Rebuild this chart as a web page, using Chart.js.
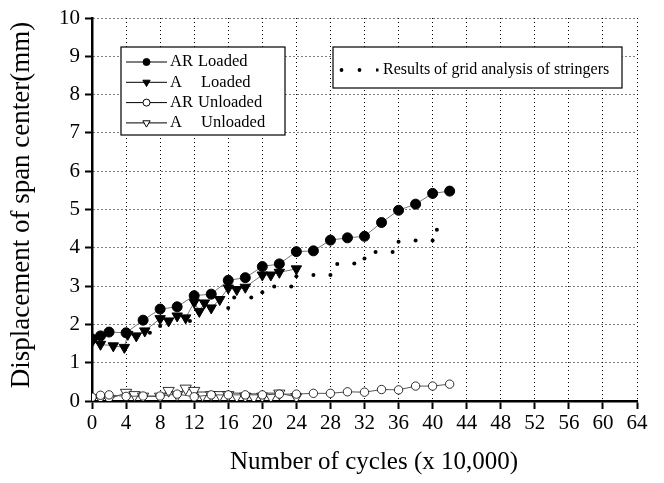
<!DOCTYPE html>
<html>
<head>
<meta charset="utf-8">
<script src="https://cdn.jsdelivr.net/npm/chart.js@4/dist/chart.umd.min.js"></script>
<style>
  html, body { margin: 0; padding: 0; background: #fff; }
  #wrap { width: 664px; height: 483px; }
</style>
</head>
<body>
<div id="wrap"><canvas id="cyclesChart"></canvas></div>
<script>
// data
const xTicks = [0, 4, 8, 12, 16, 20, 24, 28, 32, 36, 40, 44, 48, 52, 56, 60, 64];
const yTicks = [0, 1, 2, 3, 4, 5, 6, 7, 8, 9, 10];

const arLoadedX = [0, 1, 2, 4, 6, 8, 10, 12, 14, 16, 18, 20, 22, 24, 26, 28, 30, 32, 34, 36, 38, 40, 42];
const arLoadedY = [1.62, 1.7, 1.8, 1.78, 2.11, 2.4, 2.46, 2.75, 2.79, 3.15, 3.22, 3.51, 3.58, 3.9, 3.92, 4.2, 4.26, 4.3, 4.66, 4.98, 5.14, 5.42, 5.48];

const aLoadedX = [0, 1, 2.5, 3.8, 4.2, 5.2, 6.2, 8, 9, 10, 11, 12, 12.6, 13.2, 14, 15, 16, 17, 18, 20, 21, 22, 24];
const aLoadedY = [1.55, 1.48, 1.44, 1.4, 1.74, 1.7, 1.83, 2.15, 2.09, 2.22, 2.17, 2.58, 2.34, 2.56, 2.43, 2.65, 2.95, 2.91, 2.97, 3.29, 3.29, 3.36, 3.45];

const arUnloadedX = [0, 1, 2, 4, 6, 8, 10, 12, 14, 16, 18, 20, 22, 24, 26, 28, 30, 32, 34, 36, 38, 40, 42];
const arUnloadedY = [0.1, 0.15, 0.16, 0.12, 0.13, 0.13, 0.18, 0.11, 0.16, 0.16, 0.16, 0.16, 0.18, 0.18, 0.2, 0.2, 0.24, 0.23, 0.3, 0.29, 0.39, 0.39, 0.44];

const aUnloadedX = [0, 1, 2, 4, 5, 6, 8, 9, 10, 11, 12, 13, 14, 15, 16, 17, 18, 19, 20, 21, 22, 24];
const aUnloadedY = [0.06, 0.08, 0.05, 0.22, 0.16, 0.12, 0.12, 0.27, 0.16, 0.33, 0.27, 0.15, 0.16, 0.16, 0.16, 0.12, 0.12, 0.1, 0.12, 0.12, 0.2, 0.11];

const gridX = [6.8, 8, 11.5, 16, 16.7, 18.7, 20, 21.4, 23.4, 24, 26, 28, 28.8, 30.8, 32, 33.3, 35.3, 36, 38, 40, 40.5];
const gridY = [1.78, 1.96, 2.09, 2.43, 2.7, 2.7, 2.84, 2.99, 2.99, 3.26, 3.29, 3.29, 3.58, 3.59, 3.72, 3.89, 3.89, 4.16, 4.19, 4.19, 4.47];

const FONT = "'Liberation Serif', 'Times New Roman', serif";

const pts = (xs, ys) => xs.map((x, i) => ({ x: x, y: ys[i] }));

// legend boxes and axis titles are drawn by hand, the original has two separate legends
// and its titles sit a bit off the plot centre
const legendBoxes = {
    id: 'legendBoxes',
    afterDraw(chart) {
        const ctx = chart.ctx;
        const drawPoint = Chart.helpers.drawPoint;
        ctx.save();
        ctx.strokeStyle = '#000';
        ctx.lineWidth = 1.2;
        ctx.fillStyle = '#fff';
        ctx.fillRect(121, 47, 164, 88);
        ctx.strokeRect(121, 47, 164, 88);
        ctx.fillRect(333, 47, 289, 41);
        ctx.strokeRect(333, 47, 289, 41);

        const rows = [
            { a: 'AR', b: 'Loaded', style: 'circle', fill: '#000', rot: 0, r: 3.5 },
            { a: 'A', b: 'Loaded', style: 'triangle', fill: '#000', rot: 180, r: 4.2 },
            { a: 'AR', b: 'Unloaded', style: 'circle', fill: '#fff', rot: 0, r: 3.5 },
            { a: 'A', b: 'Unloaded', style: 'triangle', fill: '#fff', rot: 180, r: 4.2 }
        ];
        ctx.font = '16.5px ' + FONT;
        ctx.textBaseline = 'middle';
        rows.forEach((row, i) => {
            const y = 62 + i * 20.3;
            ctx.strokeStyle = '#000';
            ctx.lineWidth = 1;
            ctx.beginPath();
            ctx.moveTo(126, y);
            ctx.lineTo(167, y);
            ctx.stroke();
            ctx.fillStyle = row.fill;
            drawPoint(ctx, { pointStyle: row.style, radius: row.r, rotation: row.rot, borderWidth: 1 }, 146.5, y);
            ctx.fillStyle = '#000';
            ctx.fillText(row.a, 170, y);
            ctx.fillText(row.b, row.a === 'AR' ? 198 : 201, y);
        });

        ctx.fillStyle = '#000';
        [341.5, 359.5].forEach(x => {
            ctx.beginPath();
            ctx.arc(x, 70, 1.9, 0, Math.PI * 2);
            ctx.fill();
        });
        ctx.fillRect(376, 68.5, 2.5, 3);
        ctx.font = '16px ' + FONT;
        ctx.fillText('Results of grid analysis of stringers', 383, 70);

        // axis titles
        ctx.textAlign = 'center';
        ctx.font = '25px ' + FONT;
        ctx.fillText('Number of cycles (x 10,000)', 374, 462);
        ctx.translate(22, 205);
        ctx.rotate(-Math.PI / 2);
        ctx.font = '27px ' + FONT;
        ctx.fillText('Displacement of span center(mm)', 0, 0);
        ctx.restore();
    }
};

const ctx = document.getElementById('cyclesChart').getContext('2d');
new Chart(ctx, {
    type: 'scatter',
    data: {
        datasets: [
            {
                label: 'AR Loaded',
                data: pts(arLoadedX, arLoadedY),
                showLine: true,
                borderColor: '#777',
                borderWidth: 1,
                pointStyle: 'circle',
                pointRadius: 5,
                pointBackgroundColor: '#000',
                pointBorderColor: '#000',
                pointBorderWidth: 1
            },
            {
                label: 'A Loaded',
                data: pts(aLoadedX, aLoadedY),
                showLine: true,
                borderColor: '#777',
                borderWidth: 1,
                pointStyle: 'triangle',
                rotation: 180,
                pointRadius: 6,
                pointBackgroundColor: '#000',
                pointBorderColor: '#000',
                pointBorderWidth: 1
            },
            {
                label: 'Results of grid analysis of stringers',
                data: pts(gridX, gridY),
                showLine: false,
                pointRadius: 2,
                pointBackgroundColor: '#000',
                pointBorderColor: '#000',
                pointBorderWidth: 0
            },
            {
                label: 'AR Unloaded',
                data: pts(arUnloadedX, arUnloadedY),
                showLine: true,
                borderColor: '#555',
                borderWidth: 1,
                pointStyle: 'circle',
                pointRadius: 4.2,
                pointBackgroundColor: '#fff',
                pointBorderColor: '#000',
                pointBorderWidth: 0.8
            },
            {
                label: 'A Unloaded',
                data: pts(aUnloadedX, aUnloadedY),
                showLine: true,
                borderColor: '#555',
                borderWidth: 1,
                pointStyle: 'triangle',
                rotation: 180,
                pointRadius: 6.5,
                pointBackgroundColor: '#fff',
                pointBorderColor: '#000',
                pointBorderWidth: 0.8
            }
        ]
    },
    options: {
        responsive: true,
        maintainAspectRatio: false,
        animation: false,
        layout: { padding: { left: 0, right: 27, top: 18, bottom: 0 } },
        plugins: {
            legend: { display: false },
            tooltip: { enabled: false }
        },
        scales: {
            x: {
                type: 'linear',
                min: 0,
                max: 64,
                afterBuildTicks: (scale) => { scale.ticks = xTicks.map(v => ({ value: v })); },
                afterFit: (scale) => { scale.height = 82; },
                ticks: {
                    color: '#000',
                    font: { family: FONT, size: 21 },
                    padding: 2,
                    maxRotation: 0,
                    autoSkip: false
                },
                grid: {
                    color: '#000',
                    lineWidth: 1,
                    drawTicks: true,
                    tickLength: 8,
                    tickColor: '#000',
                    tickWidth: 2
                },
                border: { display: true, color: '#000', width: 2.5, dash: [1, 3] },
                title: { display: false }
            },
            y: {
                type: 'linear',
                min: 0,
                max: 10,
                afterBuildTicks: (scale) => { scale.ticks = yTicks.map(v => ({ value: v })); },
                afterFit: (scale) => { scale.width = 92; },
                ticks: {
                    color: '#000',
                    font: { family: FONT, size: 21 },
                    padding: 5
                },
                grid: {
                    color: '#000',
                    lineWidth: 1,
                    drawTicks: true,
                    tickLength: 7,
                    tickColor: '#000',
                    tickWidth: 2
                },
                border: { display: true, color: '#000', width: 2.5, dash: [1, 3] },
                title: { display: false }
            }
        }
    },
    plugins: [legendBoxes]
});
</script>
</body>
</html>
